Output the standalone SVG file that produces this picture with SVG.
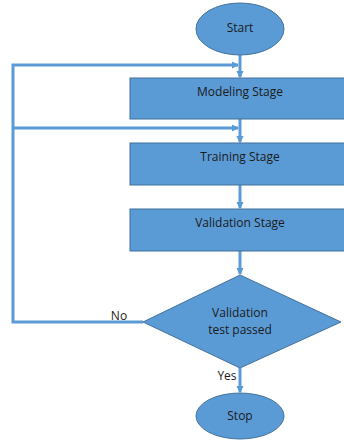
<svg xmlns="http://www.w3.org/2000/svg" width="344" height="440" viewBox="0 0 344 440">
<defs>
<style>
.n{fill:#5B9BD5;stroke:#41719C;stroke-width:1}
.t{font-family:"Open Sans","Liberation Sans",Arial,sans-serif;font-size:12px;fill:#1a1a1a;text-anchor:middle}
.c{fill:none;stroke:#5B9BD5;stroke-width:3}
</style>
<marker id="ah" markerWidth="2.4" markerHeight="2.4" refX="2" refY="1.2" orient="auto" markerUnits="strokeWidth">
<path d="M0,0 L2.4,1.2 L0,2.4 z" fill="#5B9BD5"/>
</marker>
</defs>
<rect width="344" height="440" fill="#fff"/>
<g id="connectors">
<line class="c" x1="240" y1="55" x2="240" y2="77" marker-end="url(#ah)"/>
<line class="c" x1="240" y1="119" x2="240" y2="142" marker-end="url(#ah)"/>
<line class="c" x1="240" y1="185" x2="240" y2="208" marker-end="url(#ah)"/>
<line class="c" x1="240" y1="251" x2="240" y2="274" marker-end="url(#ah)"/>
<line class="c" x1="240" y1="368" x2="240" y2="392" marker-end="url(#ah)"/>
<polyline class="c" points="143,322 13,322 13,65 238,65" marker-end="url(#ah)"/>
<line class="c" x1="13" y1="128" x2="238" y2="128" marker-end="url(#ah)"/>
<text class="t" x="119" y="320">No</text>
<text class="t" x="227" y="380">Yes</text>
</g>
<g id="start">
<ellipse class="n" cx="240" cy="29" rx="44" ry="26"/>
<text class="t" x="240" y="32">Start</text>
</g>
<g id="modeling">
<rect class="n" x="130" y="78" width="215" height="41"/>
<text class="t" x="240" y="96">Modeling Stage</text>
</g>
<g id="training">
<rect class="n" x="130" y="143" width="215" height="42"/>
<text class="t" x="240" y="161">Training Stage</text>
</g>
<g id="validation">
<rect class="n" x="130" y="209" width="215" height="42"/>
<text class="t" x="240" y="227">Validation Stage</text>
</g>
<g id="decision">
<polygon class="n" points="240,275 341,322 240,368 143,322"/>
<text class="t" x="240" y="317">Validation</text>
<text class="t" x="240" y="334">test passed</text>
</g>
<g id="stop">
<ellipse class="n" cx="240" cy="416" rx="44" ry="23"/>
<text class="t" x="240" y="420">Stop</text>
</g>
</svg>
